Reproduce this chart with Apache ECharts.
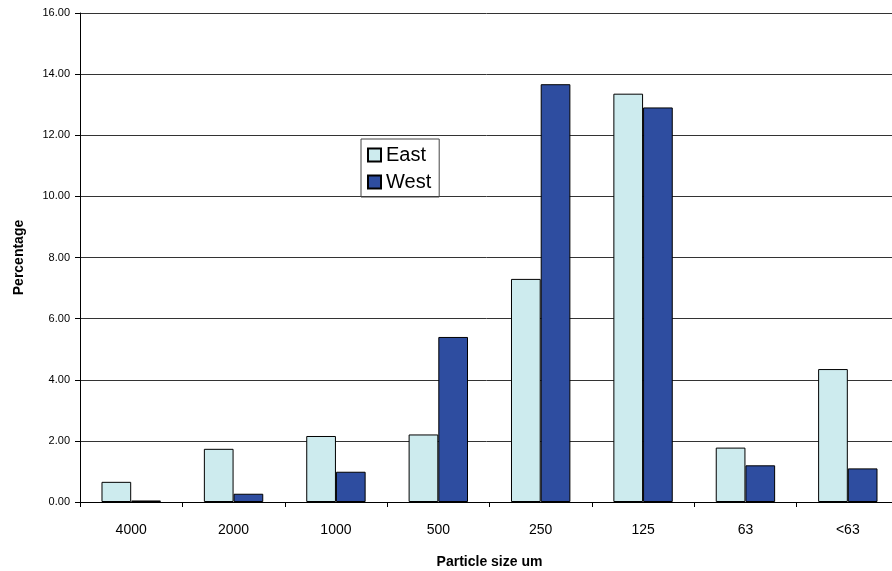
<!DOCTYPE html>
<html>
<head>
<meta charset="utf-8">
<script src="https://cdn.jsdelivr.net/npm/echarts@6/dist/echarts.min.js"></script>
<style>
  html, body { margin: 0; padding: 0; background: #fff; overflow: hidden; }
  #chart { width: 892px; height: 571px; }
</style>
</head>
<body>
<div id="chart"></div>
<script>
// Particle size classes (um) and share of sample in each, per site
const categories = ['4000', '2000', '1000', '500', '250', '125', '63', '<63'];
const eastValues = [0.66, 1.74, 2.16, 2.21, 7.30, 13.36, 1.78, 4.35];
const westValues = [0.05, 0.27, 0.99, 5.40, 13.67, 12.91, 1.20, 1.10];
const yTicks = { min: 0, max: 16, interval: 2 };

const chart = echarts.init(document.getElementById('chart'));
const font = 'Arial, "Liberation Sans", sans-serif';

chart.setOption({
  animation: false,
  backgroundColor: '#fff',
  // plot runs slightly past the right edge of the canvas
  grid: { left: 80, top: 13, bottom: 69, width: 819, containLabel: false, outerBoundsMode: 'none' },
  legend: {
    left: 361, top: 139,
    orient: 'vertical',
    data: ['East', 'West'],
    itemWidth: 13, itemHeight: 13, itemGap: 7,
    padding: [6, 8, 5, 6],
    borderColor: '#444', borderWidth: 1,
    icon: 'rect',
    textStyle: { fontFamily: font, fontSize: 20, color: '#000' }
  },
  xAxis: {
    type: 'category',
    data: categories,
    name: 'Particle size um',
    nameLocation: 'middle',
    nameGap: 53,
    nameTextStyle: { fontFamily: font, fontSize: 14, fontWeight: 'bold', color: '#000' },
    axisLine: { lineStyle: { color: '#000', width: 1 } },
    axisTick: { show: true, length: 5, lineStyle: { color: '#000' } },
    axisLabel: { fontFamily: font, fontSize: 14, color: '#000', margin: 21 },
    splitLine: { show: false }
  },
  yAxis: {
    type: 'value',
    min: yTicks.min, max: yTicks.max, interval: yTicks.interval,
    name: 'Percentage',
    nameLocation: 'middle',
    nameGap: 54,
    nameRotate: 90,
    nameTextStyle: { fontFamily: font, fontSize: 14, fontWeight: 'bold', color: '#000' },
    axisLine: { show: true, lineStyle: { color: '#000', width: 1 } },
    axisTick: { show: true, length: 5, lineStyle: { color: '#000' } },
    axisLabel: { fontFamily: font, fontSize: 11, color: '#000', margin: 10,
      formatter: v => v.toFixed(2) },
    splitLine: { show: true, lineStyle: { color: '#333', width: 1 } }
  },
  series: [
    {
      name: 'East', type: 'bar', data: eastValues,
      barGap: '0%', barCategoryGap: '42%',
      itemStyle: { color: '#CDEBEE', borderColor: '#000', borderWidth: 1 }
    },
    {
      name: 'West', type: 'bar', data: westValues,
      barGap: '0%', barCategoryGap: '42%',
      itemStyle: { color: '#2E4DA0', borderColor: '#000', borderWidth: 1 }
    }
  ]
});
</script>
</body>
</html>
